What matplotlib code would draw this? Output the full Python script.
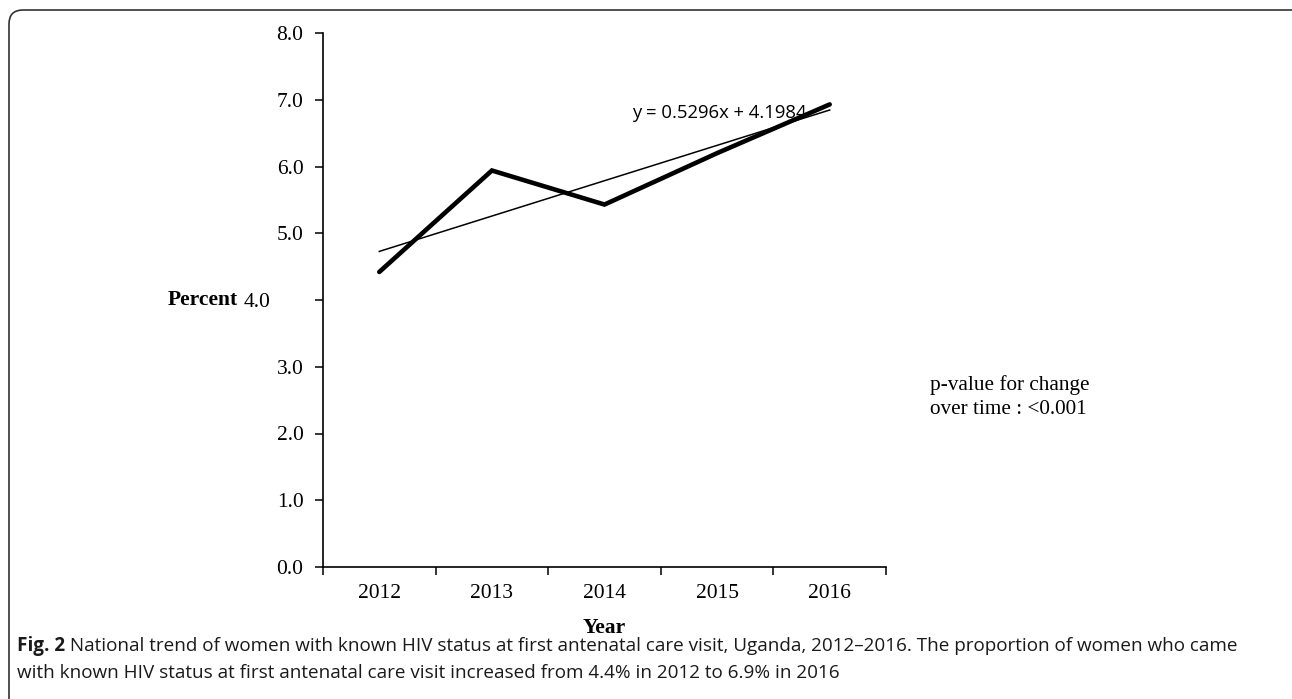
import matplotlib
matplotlib.use("Agg")
import matplotlib.pyplot as plt
import numpy as np
from matplotlib.patches import FancyBboxPatch
from matplotlib.transforms import IdentityTransform, offset_copy

years = ["2012", "2013", "2014", "2015", "2016"]
percent = [4.42, 5.94, 5.43, 6.20, 6.93]
trend_slope = 0.5296
trend_intercept = 4.1984
y_ticks = [0.0, 1.0, 2.0, 3.0, 4.0, 5.0, 6.0, 7.0, 8.0]
equation_text = "y = 0.5296x + 4.1984"
pvalue_text = "p-value for change\nover time : <0.001"
caption_bold = "Fig. 2"
caption_rest = (" National trend of women with known HIV status at first antenatal care visit, Uganda, 2012\u20132016. The proportion of women who came")
caption_line2 = "with known HIV status at first antenatal care visit increased from 4.4% in 2012 to 6.9% in 2016"

W, H = 1292, 699
fig = plt.figure(figsize=(W / 100, H / 100), dpi=100)
ax = fig.add_axes([323 / W, 1 - 567 / H, (886 - 323) / W, (567 - 33) / H])

serif = "Liberation Serif"
fs = 15.5
x = np.arange(len(years))
ax.plot(x, percent, color="black", lw=3.3, solid_joinstyle="miter", solid_capstyle="round", zorder=3)
xt = x + 1
ax.plot(x, trend_slope * xt + trend_intercept, color="black", lw=1.1, zorder=2)

ax.set_xlim(-0.5, len(years) - 0.5)
ax.set_ylim(0, 8)
ax.set_yticks(y_ticks)
ax.set_yticklabels([f"{v:.1f}" for v in y_ticks], fontfamily=serif, fontsize=fs)
ax.set_xticks(np.arange(len(years) + 1) - 0.5)
ax.set_xticklabels([])
ax.set_xticks(x, minor=True)
ax.set_xticklabels(years, minor=True, fontfamily=serif, fontsize=fs)
ax.tick_params(axis="x", which="minor", length=0, pad=12)
ax.tick_params(axis="x", which="major", length=6, width=1.1, direction="out")
ax.tick_params(axis="y", length=6, width=1.1, direction="out", pad=8)
for s in ["top", "right"]:
    ax.spines[s].set_visible(False)
for s in ["left", "bottom"]:
    ax.spines[s].set_linewidth(1.2)

# the "4.0" label sits next to the axis title, shifted left
for lab, v in zip(ax.get_yticklabels(), y_ticks):
    if v == 4.0:
        lab.set_transform(offset_copy(lab.get_transform(), fig=fig, x=-33, y=0, units="dots"))

ax.set_xlabel("Year", fontfamily=serif, fontsize=fs, fontweight="bold", labelpad=11)
fig.text(238 / W, 1 - 300 / H, "Percent", fontfamily=serif, fontsize=fs, fontweight="bold",
         ha="right", va="center")

fig.text(632 / W, 1 - 113 / H, equation_text, fontfamily="Open Sans", fontsize=13.3, ha="left", va="center")
fig.text(930 / W, 1 - 397 / H, pvalue_text, fontfamily=serif, fontsize=15.3, ha="left", va="center",
         linespacing=1.4)

cap_font = "Open Sans"
cfs = 13.6
t = fig.text(17 / W, 1 - 646 / H, caption_bold, fontfamily=cap_font, fontsize=cfs, fontweight="bold",
             ha="left", va="center", color="#1a1a1a")
fig.canvas.draw()
bb = t.get_window_extent()
fig.text(bb.x1 / W, 1 - 646 / H, caption_rest, fontfamily=cap_font, fontsize=cfs,
         ha="left", va="center", color="#1a1a1a")
fig.text(17 / W, 1 - 673 / H, caption_line2, fontfamily=cap_font, fontsize=cfs,
         ha="left", va="center", color="#1a1a1a")

box = FancyBboxPatch((9, -20), 1300, H - 10 + 20, boxstyle="round,pad=0,rounding_size=14",
                     transform=IdentityTransform(), fill=False, edgecolor="#333333", lw=1.2)
fig.add_artist(box)

fig.savefig("out.png", dpi=100)
